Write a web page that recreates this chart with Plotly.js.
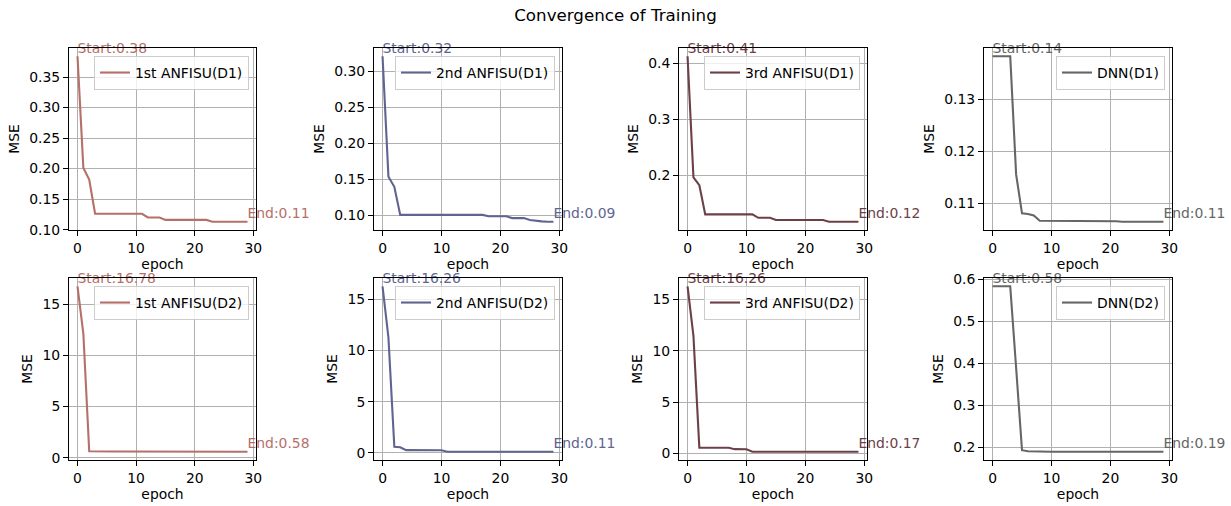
<!DOCTYPE html>
<html>
<head>
<meta charset="utf-8">
<script src="https://cdn.plot.ly/plotly-3.0.1.min.js"></script>
<style>html,body{margin:0;padding:0;background:#fff;}#chart{width:1231px;height:506px;}</style>
</head>
<body>
<div id="chart"></div>
<script>
// ---------- data ----------
const epochs = [0,1,2,3,4,5,6,7,8,9,10,11,12,13,14,15,16,17,18,19,20,21,22,23,24,25,26,27,28,29];

const mse_anfisu1_d1 = [0.384,0.201,0.182,0.126,0.126,0.126,0.126,0.126,0.126,0.126,0.126,0.126,0.120,0.120,0.120,0.116,0.116,0.116,0.116,0.116,0.116,0.116,0.116,0.113,0.113,0.113,0.113,0.113,0.113,0.113];
const mse_anfisu2_d1 = [0.321,0.154,0.140,0.101,0.101,0.101,0.101,0.101,0.101,0.101,0.101,0.101,0.101,0.101,0.101,0.101,0.101,0.101,0.099,0.099,0.099,0.099,0.0965,0.0965,0.0965,0.094,0.0925,0.092,0.0915,0.0915];
const mse_anfisu3_d1 = [0.412,0.197,0.183,0.131,0.131,0.131,0.131,0.131,0.131,0.131,0.131,0.131,0.125,0.125,0.125,0.121,0.121,0.121,0.121,0.121,0.121,0.121,0.121,0.121,0.118,0.118,0.118,0.118,0.118,0.118];
const mse_dnn_d1     = [0.1383,0.1383,0.1383,0.1383,0.1156,0.1081,0.1080,0.1077,0.1067,0.1067,0.1067,0.1067,0.1067,0.1067,0.1066,0.1066,0.1066,0.1066,0.1066,0.1066,0.1066,0.1066,0.1065,0.1065,0.1065,0.1065,0.1065,0.1065,0.1065,0.1065];

const mse_anfisu1_d2 = [16.78,12.13,0.62,0.60,0.60,0.60,0.60,0.60,0.60,0.60,0.60,0.60,0.60,0.59,0.59,0.59,0.59,0.59,0.59,0.59,0.59,0.59,0.59,0.58,0.58,0.58,0.58,0.58,0.58,0.58];
const mse_anfisu2_d2 = [16.26,11.25,0.60,0.55,0.27,0.26,0.26,0.26,0.26,0.26,0.25,0.11,0.11,0.11,0.11,0.11,0.11,0.11,0.11,0.11,0.11,0.11,0.11,0.11,0.11,0.11,0.11,0.11,0.11,0.11];
const mse_anfisu3_d2 = [16.26,11.43,0.57,0.56,0.56,0.56,0.56,0.55,0.42,0.42,0.41,0.17,0.17,0.17,0.17,0.17,0.17,0.17,0.17,0.17,0.17,0.17,0.17,0.17,0.17,0.17,0.17,0.17,0.17,0.17];
const mse_dnn_d2     = [0.584,0.584,0.584,0.584,0.390,0.1936,0.1912,0.1905,0.1900,0.1900,0.1900,0.1900,0.1900,0.1900,0.1900,0.1900,0.1900,0.1900,0.1900,0.1900,0.1900,0.1900,0.1900,0.1900,0.1900,0.1900,0.1900,0.1900,0.1900,0.1900];

const seriesNames = ["1st ANFISU(D1)","2nd ANFISU(D1)","3rd ANFISU(D1)","DNN(D1)",
                     "1st ANFISU(D2)","2nd ANFISU(D2)","3rd ANFISU(D2)","DNN(D2)"];
const seriesData = [mse_anfisu1_d1, mse_anfisu2_d1, mse_anfisu3_d1, mse_dnn_d1,
                    mse_anfisu1_d2, mse_anfisu2_d2, mse_anfisu3_d2, mse_dnn_d2];

// ---------- styling ----------
const W = 1231, H = 506;
const colors = ["#b5706a","#5f6591","#6d4048","#666666"];
const yDtick = [0.05, 0.05, 0.1, 0.01, 5, 5, 5, 0.1];
const yFmt   = [".2f", ".2f", ".1f", ".2f", "d", "d", "d", ".1f"];
const colPx = [[69,256],[374,562],[679,867],[984,1172]];
const rowPx = [[48,230],[278,460]];
const FS = 13.9;
const FONT = "DejaVu Sans";

const traces = [];
const layout = {
  width: W, height: H,
  margin: {l:0, r:0, t:0, b:0},
  paper_bgcolor: "#fff", plot_bgcolor: "#fff",
  font: {family: FONT, size: FS, color: "#000"},
  title: {text: "Convergence of Training", font: {family: FONT, size: 16.7, color: "#000"},
          x: 0.5, xref: "paper", xanchor: "center", y: 1 - 15/H, yref: "container", yanchor: "middle"},
  showlegend: true
};

function pad(arr){
  const mn = Math.min(...arr), mx = Math.max(...arr), r = mx - mn;
  return [mn - 0.05*r, mx + 0.05*r];
}

for (let i = 0; i < 8; i++) {
  const row = Math.floor(i/4), col = i % 4;
  const n = i + 1;
  const xa = "xaxis" + (n === 1 ? "" : n), ya = "yaxis" + (n === 1 ? "" : n);
  const xr = "x" + (n === 1 ? "" : n), yr = "y" + (n === 1 ? "" : n);
  const lg = "legend" + (n === 1 ? "" : n);
  const color = colors[col];
  const data = seriesData[i];
  const [x0, x1] = colPx[col];
  const [top, bot] = rowPx[row];

  traces.push({
    type: "scatter", mode: "lines", x: epochs, y: data, name: seriesNames[i],
    xaxis: xr, yaxis: yr, legend: lg,
    line: {color: color, width: 2.1}
  });
  traces.push({
    type: "scatter", mode: "text", x: [epochs[0]], y: [data[0]],
    text: ["Start:" + data[0].toFixed(2)], textposition: "top right",
    textfont: {family: FONT, size: FS, color: color},
    xaxis: xr, yaxis: yr, showlegend: false, cliponaxis: false, hoverinfo: "skip"
  });
  const last = data.length - 1;
  traces.push({
    type: "scatter", mode: "text", x: [epochs[last]], y: [data[last]],
    text: ["End:" + data[last].toFixed(2)], textposition: "top right",
    textfont: {family: FONT, size: FS, color: color},
    xaxis: xr, yaxis: yr, showlegend: false, cliponaxis: false, hoverinfo: "skip"
  });

  const axCommon = {
    showgrid: true, gridcolor: "#b0b0b0", gridwidth: 1,
    showline: true, linecolor: "#000", linewidth: 1, mirror: true,
    ticks: "outside", ticklen: 5, tickwidth: 1, tickcolor: "#000",
    zeroline: false, automargin: false,
    tickfont: {family: FONT, size: FS, color: "#000"}
  };
  const xmin = Math.min(...epochs), xmax = Math.max(...epochs), xrng = xmax - xmin;
  layout[xa] = Object.assign({}, axCommon, {
    domain: [x0/W, x1/W], anchor: yr,
    range: [xmin - 0.05*xrng, xmax + 0.05*xrng], tick0: 0, dtick: 10,
    title: {text: "epoch", font: {family: FONT, size: FS, color: "#000"}, standoff: 4}
  });
  layout[ya] = Object.assign({}, axCommon, {
    domain: [1 - bot/H, 1 - top/H], anchor: xr,
    range: pad(data), tick0: 0, dtick: yDtick[i], tickformat: yFmt[i],
    title: {text: "MSE", font: {family: FONT, size: FS, color: "#000"}, standoff: 6}
  });
  layout[lg] = {
    x: (x1 - 7)/W, y: 1 - (top + 8)/H, xanchor: "right", yanchor: "top",
    xref: "paper", yref: "paper",
    bgcolor: "rgba(255,255,255,0.8)", bordercolor: "#cccccc", borderwidth: 1,
    font: {family: FONT, size: FS, color: "#000"},
    itemwidth: 30, tracegroupgap: 0
  };
}

Plotly.newPlot("chart", traces, layout, {displayModeBar: false, staticPlot: true});
</script>
</body>
</html>
